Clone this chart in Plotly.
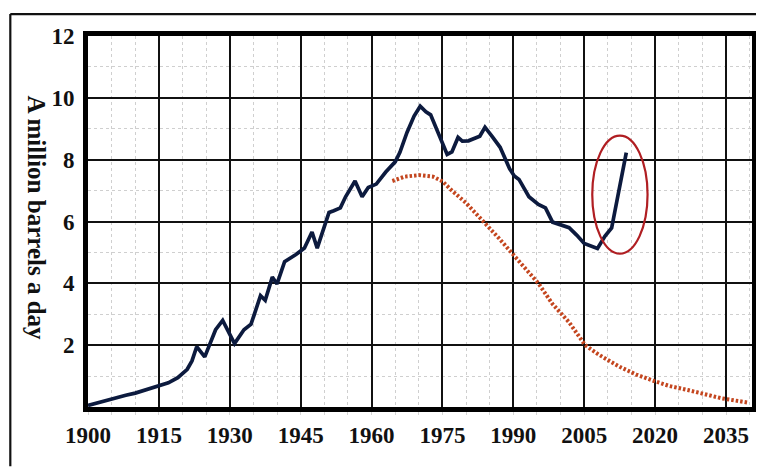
import plotly.graph_objects as go

# Actual production (million barrels a day)
prod_years = [1900, 1903, 1906, 1908, 1910, 1912, 1915, 1917, 1919, 1921, 1922, 1923,
              1924.7, 1927, 1928.5, 1931, 1933, 1934.5, 1936.5, 1937.5, 1939, 1940,
              1941.6, 1944, 1945.8, 1947.4, 1948.5, 1951, 1952, 1953.4, 1954.5, 1956.5,
              1958, 1959.3, 1961, 1963, 1965, 1966, 1967.5, 1969, 1970.3, 1971.5, 1972.5,
              1974, 1976, 1977, 1978.3, 1979.2, 1980.5, 1982.9, 1984, 1985.5, 1987.2,
              1989.2, 1990.2, 1991.2, 1993.3, 1995.3, 1996.8, 1998.3, 2000.3, 2001.8,
              2003.4, 2005, 2007.8, 2009.4, 2010.8, 2013.9]
prod_values = [0.05, 0.18, 0.3, 0.38, 0.45, 0.55, 0.67, 0.78, 0.95, 1.22, 1.49, 1.95,
               1.62, 2.5, 2.8, 2.05, 2.5, 2.68, 3.6, 3.45, 4.2, 3.98,
               4.7, 4.93, 5.14, 5.66, 5.14, 6.29, 6.35, 6.44, 6.8, 7.31,
               6.8, 7.1, 7.21, 7.6, 7.93, 8.24, 8.88, 9.41, 9.73, 9.55, 9.45,
               8.88, 8.17, 8.25, 8.72, 8.6, 8.61, 8.76, 9.05, 8.75, 8.4,
               7.71, 7.47, 7.36, 6.8, 6.55, 6.44, 5.98, 5.87, 5.8,
               5.56, 5.29, 5.13, 5.53, 5.79, 8.23]

# Projected decline (dotted curve)
proj_years = [1964.4, 1967, 1970, 1973, 1975, 1977, 1980, 1983.7, 1987, 1990.6, 1995.3,
              1998.3, 2001.8, 2005.2, 2008, 2012.5, 2016, 2019.8, 2023, 2026.9, 2030,
              2034.1, 2039.7]
proj_values = [7.31, 7.45, 7.5, 7.45, 7.3, 7.0, 6.6, 6.0, 5.45, 4.82, 4.0,
               3.33, 2.74, 2.0, 1.7, 1.3, 1.05, 0.84, 0.68, 0.55, 0.42,
               0.28, 0.14]

x_ticks = [1900, 1915, 1930, 1945, 1960, 1975, 1990, 2005, 2020, 2035]
y_ticks = [2, 4, 6, 8, 10, 12]
y_title = "A million barrels a day"

# highlight ellipse bounds (data coords)
ell_x = [2006.7, 2018.4]
ell_y = [4.96, 8.78]

FONT = "Liberation Serif, Times New Roman, serif"

fig = go.Figure()
fig.add_trace(go.Scatter(
    x=proj_years, y=proj_values, mode="lines",
    line=dict(color="#c4461f", width=4, dash="2.5px,2px"),
    hoverinfo="skip", showlegend=False))
fig.add_trace(go.Scatter(
    x=prod_years, y=prod_values, mode="lines",
    line=dict(color="#0c1a3e", width=3.7),
    showlegend=False))

fig.add_shape(type="circle", xref="x", yref="y",
              x0=ell_x[0], x1=ell_x[1], y0=ell_y[0], y1=ell_y[1],
              line=dict(color="#b01e22", width=2.2))

# outer frame lines (top and left)
fig.add_shape(type="line", xref="paper", yref="paper",
              x0=-0.117, x1=1.02, y0=1.059, y1=1.059,
              line=dict(color="#111", width=2.2))
fig.add_shape(type="line", xref="paper", yref="paper",
              x0=-0.117, x1=-0.117, y0=1.059, y1=-0.16,
              line=dict(color="#111", width=2.2))

fig.add_annotation(text=y_title, xref="paper", yref="paper",
                   x=-0.078, y=0.51, xanchor="center", yanchor="middle",
                   textangle=90, showarrow=False,
                   font=dict(family=FONT, size=25, color="#111", weight="bold"))

fig.update_xaxes(
    range=[1900, 2040.5], tickmode="array", tickvals=x_ticks,
    showgrid=True, gridcolor="#111", gridwidth=2,
    showline=True, linecolor="#000", linewidth=5, mirror=True,
    ticks="outside", ticklen=3, tickcolor="rgba(0,0,0,0)",
    tickfont=dict(family=FONT, size=23, color="#111", weight="bold"),
    minor=dict(dtick=5, tick0=1900, showgrid=True, gridcolor="#cfcfcf",
               griddash="dot", gridwidth=1, ticks="outside", ticklen=3,
               tickcolor="#d5d5d5"),
    zeroline=False, fixedrange=True)
fig.update_yaxes(
    range=[0, 12], tickmode="array", tickvals=y_ticks,
    showgrid=True, gridcolor="#111", gridwidth=2,
    showline=True, linecolor="#000", linewidth=5, mirror=True,
    ticks="outside", ticklen=4, tickcolor="rgba(0,0,0,0)",
    tickfont=dict(family=FONT, size=23, color="#111", weight="bold"),
    minor=dict(dtick=1, tick0=0, showgrid=True, gridcolor="#cfcfcf",
               griddash="dot", gridwidth=1),
    zeroline=False, fixedrange=True)

# page body has an 8px default margin, so the figure is sized/offset to fit the window
fig.update_layout(
    width=756, height=463,
    margin=dict(l=80, r=7, t=28, b=64),
    paper_bgcolor="white", plot_bgcolor="white",
    showlegend=False,
)

fig.write_html("out.html")
